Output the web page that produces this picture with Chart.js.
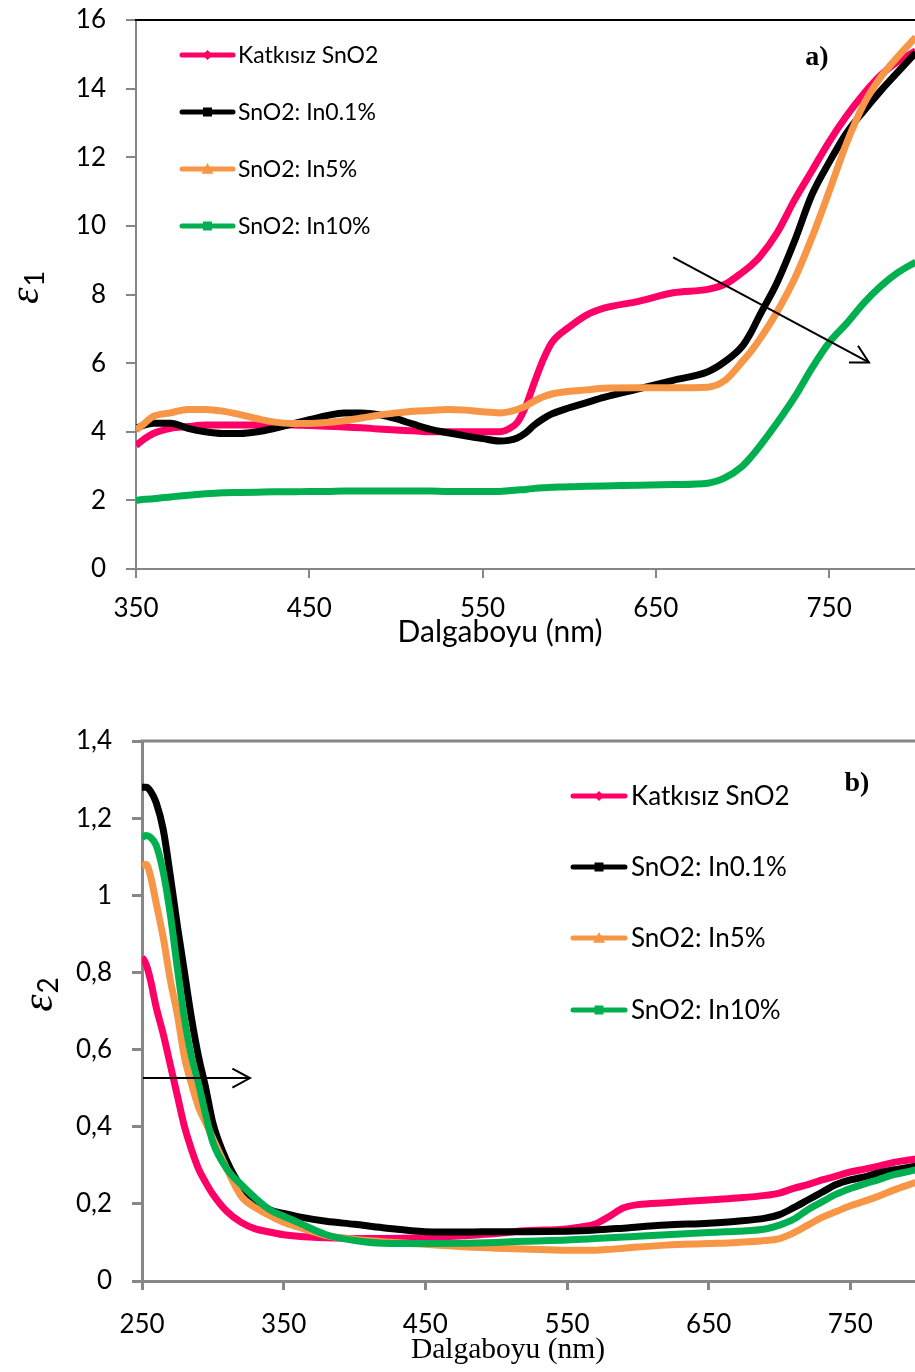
<!DOCTYPE html>
<html><head><meta charset="utf-8">
<script src="https://cdn.jsdelivr.net/npm/chart.js@4"></script>
<style>
html,body{margin:0;padding:0;background:#fff;}
#wrap{position:relative;width:915px;height:1372px;overflow:hidden;background:#fff;}
canvas{position:absolute;left:0;}
#c1{top:0;} #c2{top:700px;}
</style></head><body>
<div id="wrap"><canvas id="c1" width="1040" height="660"></canvas><canvas id="c2" width="1040" height="672"></canvas></div>
<script>
// ---------- DATA ----------
const seriesNames = ['Katkısız SnO2', 'SnO2: In0.1%', 'SnO2: In5%', 'SnO2: In10%'];
const seriesColors = ['#FF0066', '#000000', '#F79646', '#00B050'];

// (a) epsilon_1
const wl1 = [350,355,360,370,380,390,400,410,420,430,440,450,460,470,480,490,500,510,520,530,540,550,560,565,570,575,580,585,590,600,610,620,640,660,680,690,700,705,710,720,730,740,750,760,770,780,790,800];
const e1Pink   = [3.6,3.8,3.95,4.1,4.15,4.2,4.2,4.2,4.2,4.2,4.2,4.18,4.16,4.14,4.12,4.08,4.05,4.03,4.0,4.0,4.0,4.0,4.0,4.08,4.27,4.75,5.45,6.1,6.6,7.05,7.4,7.6,7.8,8.05,8.15,8.3,8.65,8.85,9.1,9.8,10.75,11.6,12.45,13.2,13.85,14.4,14.8,15.1];
const e1Black  = [4.1,4.2,4.25,4.25,4.1,4.0,3.95,3.95,4.0,4.1,4.22,4.35,4.47,4.55,4.55,4.5,4.38,4.22,4.07,3.97,3.88,3.8,3.73,3.75,3.82,3.97,4.2,4.38,4.52,4.7,4.85,5.0,5.25,5.5,5.75,6.05,6.5,6.9,7.4,8.35,9.55,10.9,11.85,12.7,13.35,13.95,14.5,15.05];
const e1Orange = [4.05,4.25,4.45,4.55,4.65,4.65,4.6,4.5,4.38,4.28,4.24,4.24,4.27,4.32,4.4,4.48,4.55,4.6,4.62,4.65,4.63,4.58,4.55,4.58,4.65,4.75,4.9,5.02,5.1,5.18,5.22,5.27,5.28,5.28,5.3,5.5,6.05,6.35,6.7,7.5,8.45,9.65,11.0,12.4,13.55,14.35,14.95,15.5];
const e1Green  = [2.0,2.03,2.05,2.1,2.15,2.19,2.22,2.23,2.24,2.25,2.25,2.26,2.26,2.27,2.27,2.27,2.27,2.27,2.27,2.26,2.26,2.26,2.26,2.28,2.3,2.32,2.35,2.37,2.38,2.4,2.41,2.42,2.44,2.46,2.5,2.66,3.0,3.27,3.58,4.26,5.0,5.85,6.6,7.15,7.75,8.25,8.65,8.95];
const xTicks1 = [350,450,550,650,750,850];
const yTicks1 = [0,2,4,6,8,10,12,14,16];
const yLabels1 = ['0','2','4','6','8','10','12','14','16'];
const arrow1 = {from:[660, 9.08], to:[773, 6.02]};
const panel1 = {text:'a)', at:[743, 14.9]};

// (b) epsilon_2
const wl2 = [250,253,256,260,265,270,275,280,285,290,295,300,310,320,330,340,350,360,380,400,420,450,480,500,520,550,560,570,580,590,600,620,650,670,690,700,710,720,730,740,750,760,770,780,790,800];
const e2Pink   = [0.84,0.82,0.78,0.71,0.64,0.56,0.48,0.4,0.34,0.29,0.255,0.225,0.18,0.152,0.135,0.127,0.12,0.116,0.112,0.11,0.11,0.112,0.118,0.123,0.13,0.135,0.14,0.148,0.168,0.19,0.198,0.203,0.21,0.215,0.222,0.228,0.24,0.25,0.262,0.272,0.283,0.29,0.298,0.307,0.313,0.318];
const e2Black  = [1.28,1.28,1.27,1.24,1.17,1.05,0.92,0.8,0.68,0.58,0.5,0.41,0.31,0.245,0.21,0.185,0.175,0.167,0.155,0.147,0.138,0.128,0.127,0.128,0.128,0.129,0.13,0.132,0.135,0.137,0.14,0.145,0.15,0.155,0.163,0.172,0.19,0.21,0.23,0.25,0.262,0.27,0.28,0.288,0.294,0.3];
const e2Orange = [1.075,1.08,1.05,0.98,0.89,0.78,0.69,0.58,0.51,0.45,0.41,0.37,0.29,0.22,0.19,0.17,0.152,0.14,0.118,0.108,0.102,0.095,0.088,0.085,0.083,0.08,0.08,0.08,0.082,0.085,0.088,0.093,0.097,0.1,0.105,0.11,0.125,0.145,0.165,0.18,0.195,0.207,0.22,0.235,0.248,0.26];
const e2Green  = [1.15,1.155,1.15,1.13,1.06,0.95,0.81,0.68,0.58,0.51,0.43,0.36,0.29,0.25,0.215,0.185,0.168,0.152,0.12,0.105,0.098,0.097,0.098,0.1,0.103,0.106,0.108,0.11,0.112,0.114,0.116,0.12,0.126,0.129,0.135,0.145,0.16,0.185,0.205,0.225,0.24,0.252,0.263,0.275,0.283,0.292];
const xTicks2 = [250,350,450,550,650,750,850];
const yTicks2 = [0,0.2,0.4,0.6,0.8,1.0,1.2,1.4];
const yLabels2 = ['0','0,2','0,4','0,6','0,8','1','1,2','1,4'];
const arrow2 = {from:[250.7, 0.526], to:[326.2, 0.526]};
const panel2 = {text:'b)', at:[754.6, 1.29]};

const xTitle = 'Dalgaboyu (nm)';
const markers = ['diamond','square','triangle','square'];

// ---------- HELPERS ----------
function makeDatasets(wl, arrays, width) {
  return arrays.map((arr, i) => ({
    label: seriesNames[i],
    data: wl.map((x, j) => ({x: x, y: arr[j]})),
    borderColor: seriesColors[i],
    backgroundColor: seriesColors[i],
    borderWidth: width,
    pointRadius: 0,
    fill: false,
    cubicInterpolationMode: 'monotone',
    order: 4 - i
  }));
}

function drawMarker(ctx, type, cx, cy, color) {
  ctx.fillStyle = color;
  ctx.beginPath();
  if (type === 'diamond') {
    const s = 5;
    ctx.moveTo(cx, cy - s); ctx.lineTo(cx + s, cy); ctx.lineTo(cx, cy + s); ctx.lineTo(cx - s, cy); ctx.closePath();
  } else if (type === 'square') {
    const s = 4.5;
    ctx.rect(cx - s, cy - s, 2 * s, 2 * s);
  } else {
    const s = 6;
    ctx.moveTo(cx, cy - s); ctx.lineTo(cx + s, cy + s * 0.8); ctx.lineTo(cx - s, cy + s * 0.8); ctx.closePath();
  }
  ctx.fill();
}

function drawArrow(ctx, x0, y0, x1, y1, head) {
  ctx.strokeStyle = '#000'; ctx.lineWidth = 2; ctx.lineCap = 'butt';
  ctx.beginPath(); ctx.moveTo(x0, y0); ctx.lineTo(x1, y1); ctx.stroke();
  const ang = Math.atan2(y1 - y0, x1 - x0), h = 0.5;
  ctx.beginPath();
  ctx.moveTo(x1 - head * Math.cos(ang - h), y1 - head * Math.sin(ang - h));
  ctx.lineTo(x1, y1);
  ctx.lineTo(x1 - head * Math.cos(ang + h), y1 - head * Math.sin(ang + h));
  ctx.stroke();
}

function decoPlugin(cfg) {
  return {
    id: 'deco',
    afterDraw(chart) {
      const ctx = chart.ctx, a = chart.chartArea, xs = chart.scales.x, ys = chart.scales.y;
      ctx.save();
      // top border of plot area
      ctx.strokeStyle = cfg.topColor; ctx.lineWidth = cfg.topWidth;
      ctx.beginPath(); ctx.moveTo(a.left - cfg.axisWidth / 2, a.top); ctx.lineTo(chart.width, a.top); ctx.stroke();
      // legend
      seriesNames.forEach((name, i) => {
        const yy = cfg.legendY[i];
        ctx.strokeStyle = seriesColors[i]; ctx.lineWidth = cfg.legendLW; ctx.lineCap = 'round';
        ctx.beginPath(); ctx.moveTo(cfg.legendX0, yy); ctx.lineTo(cfg.legendX1, yy); ctx.stroke();
        drawMarker(ctx, markers[i], (cfg.legendX0 + cfg.legendX1) / 2, yy, seriesColors[i]);
        ctx.fillStyle = '#000'; ctx.font = cfg.legendFont; ctx.textAlign = 'left'; ctx.textBaseline = 'middle';
        ctx.fillText(name, cfg.legendTextX, yy + 1);
      });
      // panel label
      ctx.fillStyle = '#000'; ctx.font = cfg.panelFont; ctx.textAlign = 'center'; ctx.textBaseline = 'middle';
      ctx.fillText(cfg.panel.text, xs.getPixelForValue(cfg.panel.at[0]), ys.getPixelForValue(cfg.panel.at[1]));
      // arrow
      drawArrow(ctx, xs.getPixelForValue(cfg.arrow.from[0]), ys.getPixelForValue(cfg.arrow.from[1]),
                xs.getPixelForValue(cfg.arrow.to[0]), ys.getPixelForValue(cfg.arrow.to[1]), cfg.arrowHead);
      // x title
      ctx.font = cfg.xTitleFont; ctx.textAlign = 'center'; ctx.textBaseline = 'middle';
      ctx.fillText(xTitle, cfg.xTitlePos[0], cfg.xTitlePos[1]);
      // y title (epsilon with subscript), rotated
      ctx.translate(cfg.yTitlePos[0], cfg.yTitlePos[1]);
      ctx.rotate(-Math.PI / 2);
      ctx.font = cfg.epsFont; ctx.textAlign = 'left'; ctx.textBaseline = 'alphabetic';
      const w = ctx.measureText('ε').width;
      ctx.font = cfg.subFont;
      const ws = ctx.measureText(cfg.sub).width;
      const x0 = -(w + ws) / 2;
      ctx.font = cfg.epsFont;
      ctx.fillText('ε', x0, cfg.epsBase);
      ctx.font = cfg.subFont;
      ctx.fillText(cfg.sub, x0 + w + 1, cfg.epsBase + cfg.subDrop);
      ctx.restore();
    }
  };
}

function axisCommon(tickLen, padding, color, width, font) {
  return {
    grid: {display: true, drawOnChartArea: false, drawTicks: true, tickLength: tickLen, color: color, lineWidth: width},
    border: {display: true, color: color, width: width},
    ticks: {color: '#000', font: font, padding: padding, autoSkip: false, maxRotation: 0}
  };
}

const tickFont = {family: 'Lato', size: 26};

// ---------- CHART (a) ----------
const ax1 = axisCommon(9, 15, '#868686', 2, tickFont);
const ay1 = axisCommon(10, 20, '#868686', 2, tickFont);
ax1.ticks.callback = v => String(v);
ay1.ticks.callback = (v, i) => yLabels1[i];
new Chart(document.getElementById('c1'), {
  type: 'line',
  data: {datasets: makeDatasets(wl1, [e1Pink, e1Black, e1Orange, e1Green], 7)},
  options: {
    responsive: false, animation: false, events: [],
    layout: {padding: {left: 0, top: 20, right: 34, bottom: 0}},
    plugins: {legend: {display: false}, tooltip: {enabled: false}},
    scales: {
      x: Object.assign(ax1, {type: 'linear', min: 350, max: 850,
        afterBuildTicks: s => { s.ticks = xTicks1.map(v => ({value: v})); },
        afterFit: s => { s.height = 91; }}),
      y: Object.assign(ay1, {type: 'linear', min: 0, max: 16,
        afterBuildTicks: s => { s.ticks = yTicks1.map(v => ({value: v})); },
        afterFit: s => { s.width = 136; s.paddingTop = 0; s.paddingBottom = 0; }})
    }
  },
  plugins: [decoPlugin({
    topColor: '#000', topWidth: 2, axisWidth: 2,
    legendY: [55, 112, 169, 226], legendX0: 182, legendX1: 233, legendTextX: 238, legendLW: 5,
    legendFont: '23px Lato',
    panel: panel1, panelFont: 'bold 28px "Liberation Serif"',
    arrow: arrow1, arrowHead: 20,
    xTitleFont: '30px Lato', xTitlePos: [500, 632],
    yTitlePos: [28, 288], epsFont: 'italic 42px "Liberation Serif"', subFont: '27px Lato', sub: '1', epsBase: 10, subDrop: 6
  })]
});

// ---------- CHART (b) ----------
const ax2 = axisCommon(9, 19, '#878787', 3, tickFont);
const ay2 = axisCommon(10, 20, '#878787', 3, tickFont);
ax2.ticks.callback = v => String(v);
ay2.ticks.callback = (v, i) => yLabels2[i];
new Chart(document.getElementById('c2'), {
  type: 'line',
  data: {datasets: makeDatasets(wl2, [e2Pink, e2Black, e2Orange, e2Green], 7)},
  options: {
    responsive: false, animation: false, events: [],
    layout: {padding: {left: 0, top: 41, right: 48, bottom: 0}},
    plugins: {legend: {display: false}, tooltip: {enabled: false}},
    scales: {
      x: Object.assign(ax2, {type: 'linear', min: 250, max: 850,
        afterBuildTicks: s => { s.ticks = xTicks2.map(v => ({value: v})); },
        afterFit: s => { s.height = 91; }}),
      y: Object.assign(ay2, {type: 'linear', min: 0, max: 1.4,
        afterBuildTicks: s => { s.ticks = yTicks2.map(v => ({value: v})); },
        afterFit: s => { s.width = 142; s.paddingTop = 0; s.paddingBottom = 0; }})
    }
  },
  plugins: [decoPlugin({
    topColor: '#878787', topWidth: 3, axisWidth: 3,
    legendY: [96, 167, 238, 310], legendX0: 573, legendX1: 625, legendTextX: 631, legendLW: 5,
    legendFont: '26px Lato',
    panel: panel2, panelFont: 'bold 28px "Liberation Serif"',
    arrow: arrow2, arrowHead: 20,
    xTitleFont: '29.5px "Liberation Serif"', xTitlePos: [508, 650],
    yTitlePos: [42, 295], epsFont: 'italic 44px "Liberation Serif"', subFont: '28px Lato', sub: '2', epsBase: 10, subDrop: 6
  })]
});
</script>
</body></html>
